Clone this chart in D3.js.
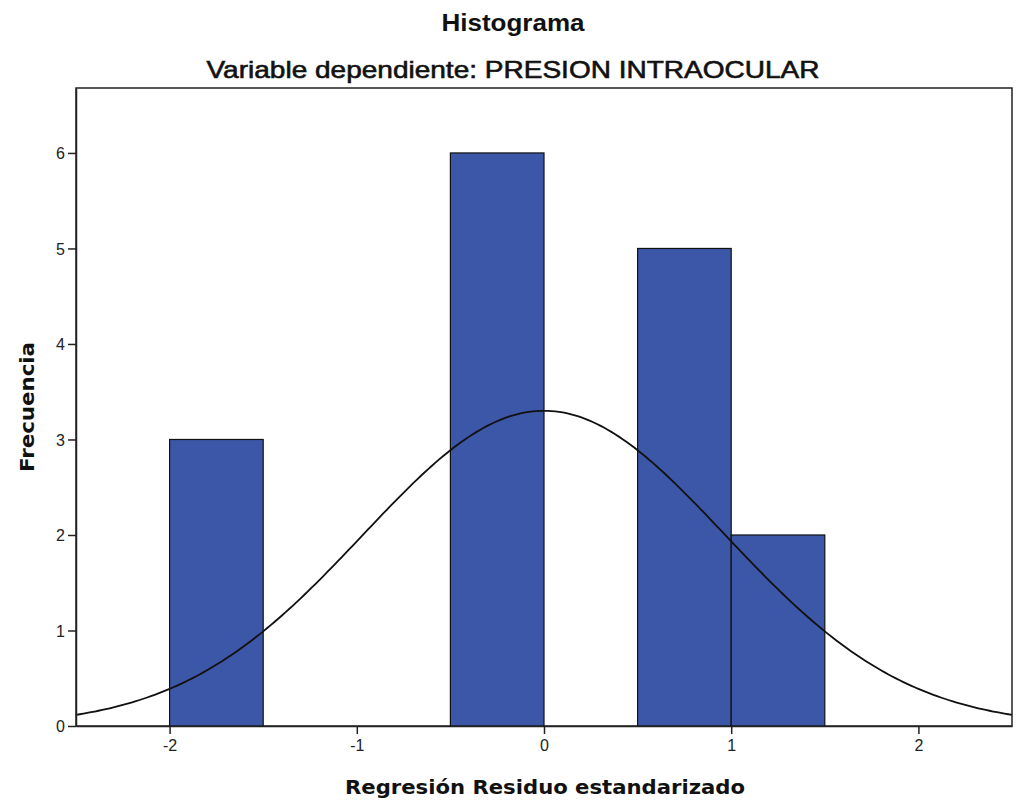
<!DOCTYPE html>
<html>
<head>
<meta charset="utf-8">
<script src="https://cdn.jsdelivr.net/npm/d3@7"></script>
<style>
  body { margin: 0; background: #fff; }
  text { font-family: "Liberation Sans", Arial, sans-serif; }
</style>
</head>
<body>
<svg id="chart" width="1016" height="805"></svg>
<script>
// bins of standardized residual, counts
let binStart = [-2, -0.5, 0.5, 1];
let binEnd = [-1.5, 0, 1, 1.5];
let counts = [3, 6, 5, 2];
let xTicks = [-2, -1, 0, 1, 2];
let yTicks = [0, 1, 2, 3, 4, 5, 6];
// normal curve params (SPSS)
let curveMean = 0;
let curveSd = 0.967;
let curveN = 16;
let binWidth = 0.5;

let svg = d3.select("#chart");
let margin = {left: 76, right: 1012, top: 88, bottom: 726};

let x = d3.scaleLinear().domain([-2.5, 2.5]).range([margin.left, margin.right]);
let y = d3.scaleLinear().domain([0, 6.68]).range([margin.bottom, margin.top]);

//Frame
svg.append("rect")
    .attr("x", margin.left).attr("y", margin.top)
    .attr("width", margin.right - margin.left)
    .attr("height", margin.bottom - margin.top)
    .attr("fill", "none")
    .attr("stroke", "#222")
    .attr("stroke-width", 1.5);

//Bars
svg.append("g")
    .selectAll("rect")
    .data(counts)
    .enter().append("rect")
    .attr("x", (d, i) => x(binStart[i]))
    .attr("y", d => y(d))
    .attr("width", (d, i) => x(binEnd[i]) - x(binStart[i]))
    .attr("height", d => y(0) - y(d))
    .attr("fill", "#3d57a8")
    .attr("stroke", "#111")
    .attr("stroke-width", 1.2);

//Normal curve
let curvePts = d3.range(-2.5, 2.5001, 0.02).map(v => {
    let z = (v - curveMean) / curveSd;
    return [v, curveN * binWidth / (curveSd * Math.sqrt(2 * Math.PI)) * Math.exp(-0.5 * z * z)];
});
svg.append("path")
    .datum(curvePts)
    .attr("fill", "none")
    .attr("stroke", "#111")
    .attr("stroke-width", 1.8)
    .attr("d", d3.line().x(d => x(d[0])).y(d => y(d[1])));

//Axes
let fmt = d => String(d);
let xAxis = svg.append("g")
    .attr("transform", "translate(0," + margin.bottom + ")")
    .call(d3.axisBottom(x).tickValues(xTicks).tickSize(8).tickSizeOuter(0).tickPadding(6).tickFormat(fmt));
let yAxis = svg.append("g")
    .attr("transform", "translate(" + margin.left + ",0)")
    .call(d3.axisLeft(y).tickValues(yTicks).tickSize(8).tickSizeOuter(0).tickPadding(3).tickFormat(fmt));
[xAxis, yAxis].forEach(a => {
    a.select(".domain").attr("stroke", "#222").attr("stroke-width", 1.5);
    a.selectAll(".tick line").attr("stroke", "#222").attr("stroke-width", 1.5);
    a.selectAll(".tick text").attr("font-size", "16px").attr("fill", "#222")
        .style("font-family", "'Liberation Sans', Arial, sans-serif");
});
yAxis.selectAll(".tick text").attr("dy", "0.35em");

//Titles
svg.append("text")
    .attr("x", 513).attr("y", 31)
    .attr("text-anchor", "middle")
    .attr("font-size", "24px")
    .attr("font-weight", "bold")
    .attr("fill", "#111")
    .attr("textLength", 143)
    .attr("lengthAdjust", "spacingAndGlyphs")
    .text("Histograma");
svg.append("text")
    .attr("x", 513).attr("y", 78)
    .attr("text-anchor", "middle")
    .attr("font-size", "24px")
    .attr("fill", "#111")
    .attr("stroke", "#111")
    .attr("stroke-width", 0.6)
    .attr("textLength", 613)
    .attr("lengthAdjust", "spacingAndGlyphs")
    .text("Variable dependiente: PRESION INTRAOCULAR");

//Axis labels
svg.append("text")
    .attr("x", 545).attr("y", 794)
    .attr("text-anchor", "middle")
    .attr("font-size", "20px")
    .attr("font-weight", "bold")
    .attr("fill", "#111")
    .attr("textLength", 400)
    .attr("lengthAdjust", "spacingAndGlyphs")
    .style("font-family", "'DejaVu Sans', Verdana, sans-serif")
    .text("Regresión Residuo estandarizado");
svg.append("text")
    .attr("transform", "translate(34,407) rotate(-90)")
    .attr("text-anchor", "middle")
    .attr("font-size", "20px")
    .attr("font-weight", "bold")
    .attr("fill", "#111")
    .attr("textLength", 130)
    .attr("lengthAdjust", "spacingAndGlyphs")
    .style("font-family", "'DejaVu Sans', Verdana, sans-serif")
    .text("Frecuencia");
</script>
</body>
</html>
